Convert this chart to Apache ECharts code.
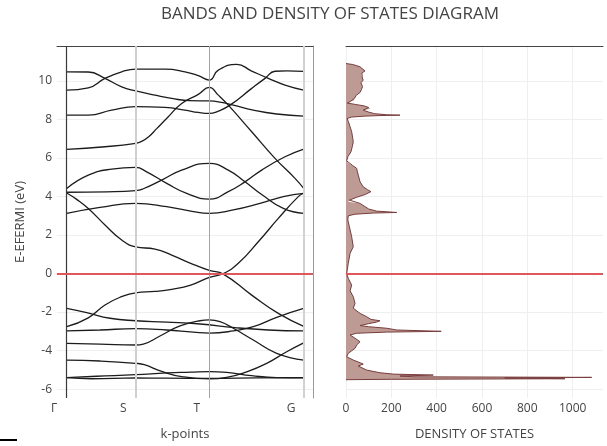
<!DOCTYPE html>
<html>
<head>
<meta charset="utf-8">
<script src="https://cdn.jsdelivr.net/npm/echarts@6/dist/echarts.min.js"></script>
<style>html,body{margin:0;padding:0;background:#fff}#c{width:607px;height:446px}</style>
</head>
<body>
<div id="c"></div>
<script>
// High-symmetry points along the k-path
const kPoints = [0, 0.69, 1.426, 2.37];
const kLabels = ['Γ', 'S', 'T', 'G'];
const energyTicks = [-6, -4, -2, 0, 2, 4, 6, 8, 10];
const dosTicks = [0, 200, 400, 600, 800, 1000];

// Bands: [k, E - Efermi]
const bandL1 = [[0,10.47],[0.216,10.46],[0.383,10.13],[0.55,9.69],[0.69,9.48],[0.883,9.26],[1.05,9.09],[1.233,8.97],[1.426,8.96],[1.533,8.9],[1.666,8.74],[1.866,8.48],[2.1,8.28],[2.37,8.17]];
const bandL2 = [[0,9.52],[0.216,9.64],[0.383,10.13],[0.55,10.47],[0.69,10.61],[0.983,10.61],[1.183,10.47],[1.316,10.27],[1.426,10.04],[1.516,10.56],[1.7,10.86],[1.85,10.51],[2.016,10.13],[2.183,9.78],[2.37,9.52]];
const bandL3 = [[0,8.22],[0.216,8.22],[0.45,8.48],[0.69,8.66],[0.983,8.62],[1.183,8.48],[1.316,8.36],[1.426,8.31],[1.516,8.43],[1.633,8.74],[1.85,9.61],[1.983,10.13],[2.083,10.5],[2.2,10.52],[2.37,10.49]];
const bandL4 = [[0,6.44],[0.383,6.58],[0.69,6.76],[0.75,6.86],[0.82,7.1],[0.9,7.52],[1.016,8.14],[1.15,8.83],[1.316,9.3],[1.426,9.66],[1.516,9.26],[1.616,8.74],[1.85,7.36],[2.083,5.98],[2.283,4.94],[2.37,4.42]];
const bandM1 = [[0,4.42],[0.216,5.11],[0.45,5.42],[0.69,5.51],[0.8,5.28],[1.0,4.68],[1.2,4.16],[1.426,3.86],[1.616,4.25],[1.783,4.76],[1.95,5.37],[2.183,6.06],[2.37,6.46]];
const bandM2 = [[0,4.22],[0.4,4.24],[0.69,4.3],[0.766,4.4],[0.95,4.85],[1.15,5.37],[1.426,5.72],[1.616,5.37],[1.783,4.76],[1.95,4.1],[2.166,3.38],[2.37,3.12]];
const bandM3 = [[0,3.12],[0.333,3.43],[0.69,3.64],[1.0,3.47],[1.266,3.21],[1.426,3.12],[1.666,3.3],[1.933,3.64],[2.166,3.99],[2.37,4.16]];
const bandD1 = [[0,4.18],[0.1,3.85],[0.216,3.38],[0.383,2.52],[0.55,1.74],[0.69,1.38],[0.883,1.27],[1.05,0.96],[1.24,0.53],[1.426,0.16],[1.566,-0.03],[1.85,-1.12],[2.116,-2.07],[2.37,-2.74]];
const bandU1 = [[0,-2.76],[0.216,-2.3],[0.383,-1.63],[0.55,-1.2],[0.69,-1.0],[0.883,-0.93],[1.05,-0.82],[1.24,-0.6],[1.426,-0.2],[1.566,0.0],[1.716,0.53],[1.916,1.65],[2.116,2.86],[2.316,3.99],[2.37,4.18]];
const bandA = [[0,-1.81],[0.2,-2.03],[0.433,-2.32],[0.69,-2.45],[1.0,-2.52],[1.333,-2.62],[1.683,-2.81],[2.016,-2.93],[2.37,-2.98]];
const bandB = [[0,-2.98],[0.333,-2.93],[0.69,-2.86],[1.0,-2.93],[1.266,-3.04],[1.426,-3.09],[1.666,-2.98],[1.866,-2.76],[2.1,-2.27],[2.37,-1.81]];
const bandC = [[0,-3.62],[0.333,-3.66],[0.69,-3.71],[0.766,-3.66],[0.933,-3.24],[1.133,-2.72],[1.333,-2.45],[1.426,-2.41],[1.533,-2.5],[1.666,-2.84],[1.866,-3.45],[2.1,-4.14],[2.37,-4.49]];
const bandD = [[0,-4.49],[0.333,-4.54],[0.69,-4.66],[0.776,-4.73],[0.95,-5.08],[1.15,-5.35],[1.426,-5.47],[1.6,-5.39],[1.8,-5.1],[2.0,-4.66],[2.2,-4.06],[2.37,-3.6]];
const bandE = [[0,-5.4],[0.25,-5.46],[0.69,-5.42],[1.0,-5.43],[1.426,-5.44],[1.9,-5.42],[2.37,-5.4]];
const bandF = [[0,-5.4],[0.3,-5.33],[0.69,-5.25],[1.0,-5.16],[1.24,-5.12],[1.426,-5.09],[1.6,-5.13],[1.85,-5.3],[2.1,-5.4],[2.37,-5.41]];
const bands = [bandL1,bandL2,bandL3,bandL4,bandM1,bandM2,bandM3,bandD1,bandU1,bandA,bandB,bandC,bandD,bandE,bandF];

// Density of states
const dosEnergy = [10.9,10.85,10.73,10.6,10.52,10.4,10.3,10.15,10.04,9.9,9.8,9.7,9.55,9.4,9.25,9.1,9.0,8.92,8.85,8.78,8.7,8.62,8.55,8.48,8.38,8.3,8.24,8.22,8.2,8.17,8.12,8.05,7.9,7.62,7.36,7.0,6.84,6.6,6.32,6.06,5.85,5.75,5.6,5.46,5.3,5.11,4.95,4.76,4.5,4.35,4.25,4.1,3.95,3.81,3.73,3.64,3.47,3.35,3.24,3.17,3.14,3.08,3.0,2.78,2.43,1.91,1.39,1.05,0.53,0.0,-0.25,-0.6,-0.9,-1.2,-1.55,-1.8,-2.07,-2.24,-2.38,-2.45,-2.52,-2.6,-2.7,-2.76,-2.84,-2.93,-3.0,-3.04,-3.1,-3.19,-3.36,-3.54,-3.71,-3.88,-4.14,-4.32,-4.49,-4.63,-4.7,-4.8,-5.01,-5.15,-5.22,-5.27,-5.32,-5.36,-5.39,-5.42,-5.46,-5.49,-5.51];
const dosValue = [0,30,62,75,84,70,68,72,76,66,70,73,68,62,45,38,35,18,5,40,80,100,106,76,100,125,180,238,150,80,25,5,10,18,25,30,32,28,22,8,3,8,30,47,50,54,58,62,76,95,110,84,45,15,10,62,84,100,135,224,120,40,10,8,15,25,32,18,10,3,10,25,18,32,40,32,62,91,110,150,135,100,62,100,180,224,420,180,47,18,40,62,47,40,10,3,32,62,76,54,91,150,209,385,238,300,1084,700,966,200,0];

const dosPairs = dosEnergy.map((e, i) => [dosValue[i], e]);
const eMin = -6.46, eMax = 11.81;
const FONT = 'Open Sans';

const chart = echarts.init(document.getElementById('c'));
const series = [];

series.push({
  type: 'line', data: [], xAxisIndex: 0, yAxisIndex: 0, z: 1, silent: true,
  markLine: {
    symbol: 'none', silent: true, label: {show: false}, animation: false,
    data: [
      {xAxis: kPoints[0], lineStyle: {color: '#3a3a3a', width: 1.2, type: 'solid'}},
      {xAxis: kPoints[1], lineStyle: {color: '#cfcfcf', width: 2, type: 'solid'}},
      {xAxis: kPoints[2], lineStyle: {color: '#a3a3a3', width: 1, type: 'solid'}},
      {xAxis: kPoints[3], lineStyle: {color: '#d2d2d2', width: 2, type: 'solid'}}
    ]
  }
});

bands.forEach(b => series.push({
  type: 'line', data: b, xAxisIndex: 0, yAxisIndex: 0, z: 3,
  smooth: 0.5, showSymbol: false, silent: true,
  lineStyle: {color: '#1c1c1c', width: 1.3}
}));

series.push({
  type: 'line', data: [], xAxisIndex: 0, yAxisIndex: 0, z: 6, silent: true,
  markLine: {symbol: 'none', silent: true, label: {show: false},
    data: [{yAxis: 0}], lineStyle: {color: '#e0575b', width: 2, type: 'solid'}}
});

series.push({
  type: 'custom', xAxisIndex: 2, yAxisIndex: 2, z: 2, clip: true, silent: true,
  data: [[0, 0]], encode: {x: 0, y: 1},
  renderItem: function (params, api) {
    const pts = dosPairs.map(p => api.coord(p));
    pts.push(api.coord([0, dosEnergy[dosEnergy.length - 1]]));
    pts.unshift(api.coord([0, dosEnergy[0]]));
    return {type: 'polygon', shape: {points: pts}, style: {fill: '#bd9b94', stroke: null}};
  }
});

series.push({
  type: 'line', data: dosPairs, xAxisIndex: 2, yAxisIndex: 2, z: 3,
  showSymbol: false, silent: true, lineStyle: {color: '#7a3c3c', width: 1}
});

series.push({
  type: 'line', data: [], xAxisIndex: 2, yAxisIndex: 2, z: 6, silent: true,
  markLine: {symbol: 'none', silent: true, label: {show: false},
    data: [{yAxis: 0}], lineStyle: {color: '#e0575b', width: 2, type: 'solid'}}
});

const lbl = {color: '#444', fontSize: 12, fontFamily: FONT};

chart.setOption({
  animation: false,
  backgroundColor: '#fff',
  title: {
    text: 'BANDS AND DENSITY OF STATES DIAGRAM',
    left: 156, top: 1,
    textStyle: {color: '#444', fontSize: 17, fontWeight: 'normal', fontFamily: FONT}
  },
  graphic: [{type: 'rect', shape: {x: 0, y: 439, width: 17, height: 2}, style: {fill: '#000'}}],
  grid: [
    {left: 57, top: 46, width: 256, height: 352},
    {left: 346, top: 46, width: 257, height: 352}
  ],
  xAxis: [
    {gridIndex: 0, type: 'value', min: -0.097, max: 2.463,
      axisLine: {show: true, lineStyle: {color: '#cccccc'}},
      axisTick: {show: false, customValues: kPoints},
      splitLine: {show: false},
      axisLabel: {customValues: kPoints, margin: 5, padding: [0, 25, 0, 0],
        formatter: v => kLabels[kPoints.indexOf(v)] || '', ...lbl},
      name: 'k-points', nameLocation: 'middle', nameGap: 30,
      nameTextStyle: {color: '#444', fontSize: 13, fontFamily: FONT}},
    {gridIndex: 0, type: 'value', position: 'top', min: -0.097, max: 2.463,
      axisLine: {show: true, onZero: false, lineStyle: {color: '#444', width: 1}},
      axisTick: {show: false}, axisLabel: {show: false}, splitLine: {show: false}},
    {gridIndex: 1, type: 'value', min: 0, max: 1134,
      axisLine: {show: true, lineStyle: {color: '#cccccc'}},
      axisTick: {show: false, customValues: dosTicks},
      splitLine: {show: true, lineStyle: {color: '#efefef'}},
      axisLabel: {margin: 5, customValues: dosTicks, formatter: v => String(v), ...lbl},
      name: 'DENSITY OF STATES', nameLocation: 'middle', nameGap: 30,
      nameTextStyle: {color: '#444', fontSize: 13, fontFamily: FONT}},
    {gridIndex: 1, type: 'value', position: 'top', min: 0, max: 1134,
      axisLine: {show: true, onZero: false, lineStyle: {color: '#444', width: 1}},
      axisTick: {show: false}, axisLabel: {show: false}, splitLine: {show: false}}
  ],
  yAxis: [
    {gridIndex: 0, type: 'value', min: eMin, max: eMax,
      axisLine: {show: false},
      axisTick: {show: false, customValues: energyTicks},
      axisLabel: {customValues: energyTicks, margin: 5, ...lbl},
      splitLine: {show: true, lineStyle: {color: '#efefef'}},
      name: 'E-EFERMI (eV)', nameLocation: 'middle', nameGap: 30,
      nameTextStyle: {color: '#444', fontSize: 13, fontFamily: FONT}},
    {gridIndex: 0, type: 'value', position: 'right', min: eMin, max: eMax,
      axisLine: {show: true, onZero: false, lineStyle: {color: '#9a9a9a'}},
      axisTick: {show: false}, axisLabel: {show: false}, splitLine: {show: false}},
    {gridIndex: 1, type: 'value', min: eMin, max: eMax,
      axisLine: {show: false},
      axisTick: {show: false, customValues: energyTicks},
      axisLabel: {show: false},
      splitLine: {show: true, lineStyle: {color: '#efefef'}}}
  ],
  series: series
});
</script>
</body>
</html>
